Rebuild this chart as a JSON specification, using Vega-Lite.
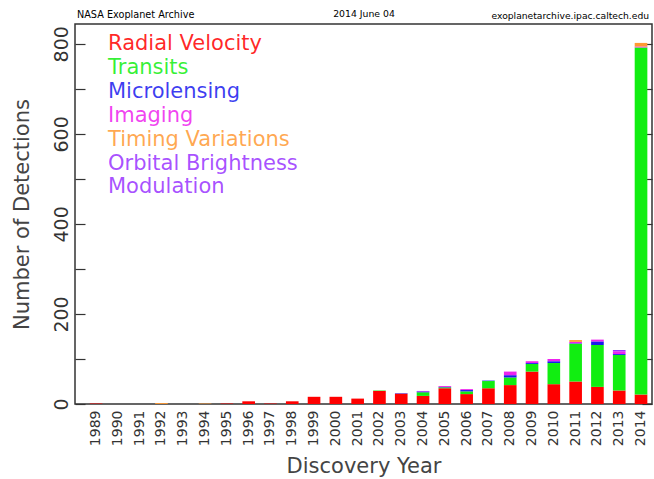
{
  "$schema": "https://vega.github.io/schema/vega-lite/v6.json",
  "width": 577,
  "height": 380,
  "autosize": "none",
  "padding": {"left": 75, "top": 24, "right": 2, "bottom": 75},
  "background": "white",
  "config": {"view": {"stroke": "#333", "strokeWidth": 1.5}, "font": "DejaVu Sans"},
  "title": {"text": "NASA Exoplanet Archive", "anchor": "start", "frame": "group", "fontSize": 9.7, "fontWeight": "normal", "color": "#000", "offset": -11, "dx": 2},
  "data": {"values": [
    {"year": 1989, "method": "Radial Velocity", "count": 1},
    {"year": 1992, "method": "Timing Variations", "count": 2},
    {"year": 1994, "method": "Timing Variations", "count": 1},
    {"year": 1995, "method": "Radial Velocity", "count": 1},
    {"year": 1996, "method": "Radial Velocity", "count": 6},
    {"year": 1997, "method": "Radial Velocity", "count": 1},
    {"year": 1998, "method": "Radial Velocity", "count": 6},
    {"year": 1999, "method": "Radial Velocity", "count": 16},
    {"year": 2000, "method": "Radial Velocity", "count": 16},
    {"year": 2001, "method": "Radial Velocity", "count": 12},
    {"year": 2002, "method": "Radial Velocity", "count": 29},
    {"year": 2002, "method": "Transits", "count": 1},
    {"year": 2003, "method": "Radial Velocity", "count": 23},
    {"year": 2003, "method": "Microlensing", "count": 1},
    {"year": 2004, "method": "Radial Velocity", "count": 18},
    {"year": 2004, "method": "Transits", "count": 8},
    {"year": 2004, "method": "Microlensing", "count": 2},
    {"year": 2004, "method": "Imaging", "count": 1},
    {"year": 2005, "method": "Radial Velocity", "count": 35},
    {"year": 2005, "method": "Transits", "count": 2},
    {"year": 2005, "method": "Microlensing", "count": 1},
    {"year": 2005, "method": "Imaging", "count": 2},
    {"year": 2006, "method": "Radial Velocity", "count": 22},
    {"year": 2006, "method": "Transits", "count": 6},
    {"year": 2006, "method": "Microlensing", "count": 3},
    {"year": 2006, "method": "Imaging", "count": 2},
    {"year": 2007, "method": "Radial Velocity", "count": 35},
    {"year": 2007, "method": "Transits", "count": 16},
    {"year": 2007, "method": "Microlensing", "count": 1},
    {"year": 2008, "method": "Radial Velocity", "count": 42},
    {"year": 2008, "method": "Transits", "count": 17},
    {"year": 2008, "method": "Microlensing", "count": 5},
    {"year": 2008, "method": "Imaging", "count": 8},
    {"year": 2009, "method": "Radial Velocity", "count": 72},
    {"year": 2009, "method": "Transits", "count": 17},
    {"year": 2009, "method": "Microlensing", "count": 2},
    {"year": 2009, "method": "Imaging", "count": 4},
    {"year": 2010, "method": "Radial Velocity", "count": 44},
    {"year": 2010, "method": "Transits", "count": 47},
    {"year": 2010, "method": "Microlensing", "count": 4},
    {"year": 2010, "method": "Imaging", "count": 5},
    {"year": 2011, "method": "Radial Velocity", "count": 50},
    {"year": 2011, "method": "Transits", "count": 84},
    {"year": 2011, "method": "Microlensing", "count": 1},
    {"year": 2011, "method": "Imaging", "count": 3},
    {"year": 2011, "method": "Timing Variations", "count": 4},
    {"year": 2012, "method": "Radial Velocity", "count": 38},
    {"year": 2012, "method": "Transits", "count": 93},
    {"year": 2012, "method": "Microlensing", "count": 8},
    {"year": 2012, "method": "Imaging", "count": 4},
    {"year": 2013, "method": "Radial Velocity", "count": 30},
    {"year": 2013, "method": "Transits", "count": 79},
    {"year": 2013, "method": "Microlensing", "count": 2},
    {"year": 2013, "method": "Imaging", "count": 6},
    {"year": 2013, "method": "Orbital Brightness Modulation", "count": 3},
    {"year": 2014, "method": "Radial Velocity", "count": 21},
    {"year": 2014, "method": "Transits", "count": 771},
    {"year": 2014, "method": "Imaging", "count": 2},
    {"year": 2014, "method": "Timing Variations", "count": 8}
  ]},
  "transform": [
    {"calculate": "indexof(['Radial Velocity','Transits','Microlensing','Imaging','Timing Variations','Orbital Brightness Modulation'], datum.method)", "as": "stack_order"}
  ],
  "layer": [
    {
      "mark": {"type": "bar"},
      "encoding": {
        "x": {
          "field": "year", "type": "ordinal",
          "scale": {"domain": [1989,1990,1991,1992,1993,1994,1995,1996,1997,1998,1999,2000,2001,2002,2003,2004,2005,2006,2007,2008,2009,2010,2011,2012,2013,2014], "paddingInner": 0.42, "paddingOuter": 0.445, "align": 0.76},
          "axis": {"orient": "bottom", "labelAngle": -90, "labelAlign": "right", "labelBaseline": "middle", "labelFontSize": 14, "labelColor": "#333", "labelPadding": 6, "ticks": false, "domain": false, "grid": false, "title": "Discovery Year", "titleFontSize": 21, "titleFontWeight": "normal", "titleColor": "#444", "titlePadding": 10}
        },
        "y": {
          "field": "count", "type": "quantitative", "stack": "zero",
          "scale": {"domain": [0, 844], "nice": false},
          "axis": {"orient": "left", "values": [0,100,200,300,400,500,600,700,800], "labelExpr": "datum.value % 200 == 0 ? datum.label : ''", "labelAngle": -90, "labelAlign": "center", "labelBaseline": "bottom", "labelFontSize": 19, "labelColor": "#333", "labelPadding": 14, "tickSize": -10, "tickColor": "#333", "tickWidth": 1.2, "domain": false, "grid": false, "title": "Number of Detections", "titleFontSize": 21, "titleFontWeight": "normal", "titleColor": "#444", "titlePadding": 20}
        },
        "color": {
          "field": "method", "type": "nominal",
          "sort": ["Radial Velocity","Transits","Microlensing","Imaging","Timing Variations","Orbital Brightness Modulation"],
          "scale": {"domain": ["Radial Velocity","Transits","Microlensing","Imaging","Timing Variations","Orbital Brightness Modulation"], "range": ["#ff0000","#11ee11","#1a1aee","#ee22ee","#ff9933","#9933ff"]},
          "legend": {"orient": "none", "legendX": 12, "legendY": 9, "title": null, "symbolSize": 0, "symbolOpacity": 0, "symbolStrokeWidth": 0, "labelOffset": 0, "labelFontSize": 21, "labelColor": {"expr": "scale('color', datum.value)"}, "labelOpacity": 0.85, "rowPadding": 2, "labelLimit": 400, "labelExpr": "datum.value == 'Orbital Brightness Modulation' ? ['Orbital Brightness', 'Modulation'] : datum.label", "labelLineHeight": 23, "padding": 0}
        },
        "order": {"field": "stack_order", "type": "quantitative"}
      }
    },
    {
      "mark": {"type": "point", "opacity": 0},
      "encoding": {
        "x": {
          "field": "year", "type": "ordinal",
          "axis": {"orient": "top", "labels": false, "ticks": false, "domain": false, "grid": false, "title": "2014 June 04", "titleFontSize": 9.3, "titleFontWeight": "normal", "titleColor": "#000", "titlePadding": 6}
        },
        "y": {
          "field": "count", "type": "quantitative", "stack": null,
          "axis": {"orient": "right", "values": [0,100,200,300,400,500,600,700,800], "labels": false, "tickSize": -10, "tickColor": "#333", "tickWidth": 1.2, "domain": false, "grid": false, "title": "exoplanetarchive.ipac.caltech.edu", "titleAngle": 0, "titleX": -161, "titleY": -6, "titleAlign": "left", "titleBaseline": "alphabetic", "titleFontSize": 9.2, "titleFontWeight": "normal", "titleColor": "#000"}
        }
      }
    }
  ],
  "resolve": {"axis": {"x": "independent", "y": "independent"}}
}
